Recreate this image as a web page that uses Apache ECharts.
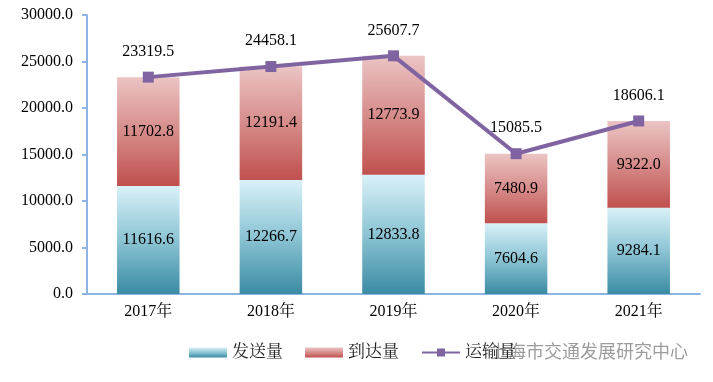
<!DOCTYPE html>
<html><head><meta charset="utf-8">
<script src="https://cdn.jsdelivr.net/npm/echarts@6/dist/echarts.min.js"></script>
<style>html,body{margin:0;padding:0;background:#fff}#c{width:713px;height:382px}</style>
</head><body><div id="c"></div>
<script>
var categories = ['2017年','2018年','2019年','2020年','2021年'];
var sendValues = [11616.6, 12266.7, 12833.8, 7604.6, 9284.1];
var arriveValues = [11702.8, 12191.4, 12773.9, 7480.9, 9322.0];
var totalValues = [23319.5, 24458.1, 25607.7, 15085.5, 18606.1];
var seriesNames = ['发送量','到达量','运输量'];

var font = '"Liberation Serif","Times New Roman",serif';
var cjk = '"Liberation Serif","Noto Serif CJK SC","Noto Sans CJK SC",serif';
var chart = echarts.init(document.getElementById('c'));
var blueGrad = new echarts.graphic.LinearGradient(0,0,0,1,[{offset:0,color:'#d9f1f8'},{offset:0.5,color:'#8cc4d4'},{offset:1,color:'#3a8ba3'}]);
var redGrad = new echarts.graphic.LinearGradient(0,0,0,1,[{offset:0,color:'#ebc4c4'},{offset:0.5,color:'#d68c8a'},{offset:1,color:'#c0504d'}]);
chart.setOption({
  animation:false,
  grid:{left:87,right:13,top:15,bottom:88},
  legend:{bottom:16,left:184,itemGap:22,itemWidth:38,itemHeight:10,
    textStyle:{fontFamily:cjk,fontSize:17,color:'#222'},
    data:[{name:seriesNames[0],icon:'rect'},{name:seriesNames[1],icon:'rect'},{name:seriesNames[2]}]},
  xAxis:{type:'category',data:categories,
    axisLine:{lineStyle:{color:'#8eb4e3',width:2}},axisTick:{show:false},
    axisLabel:{fontFamily:cjk,fontSize:16,color:'#000',margin:10}},
  yAxis:{type:'value',min:0,max:30000,interval:5000,
    axisLine:{show:true,lineStyle:{color:'#8eb4e3',width:2}},
    axisTick:{show:true,length:5,lineStyle:{color:'#8eb4e3',width:2}},
    splitLine:{show:false},
    axisLabel:{fontFamily:font,fontSize:16,color:'#000',margin:14,formatter:function(v){return v.toFixed(1);}}},
  series:[
    {name:seriesNames[0],type:'bar',stack:'a',barWidth:'51%',data:sendValues,
     itemStyle:{color:blueGrad},
     label:{show:true,position:'inside',fontFamily:font,fontSize:16,color:'#000',formatter:function(p){return p.value.toFixed(1);}}},
    {name:seriesNames[1],type:'bar',stack:'a',data:arriveValues,
     itemStyle:{color:redGrad},
     label:{show:true,position:'inside',fontFamily:font,fontSize:16,color:'#000',formatter:function(p){return p.value.toFixed(1);}}},
    {name:seriesNames[2],type:'line',data:totalValues,symbol:'rect',symbolSize:11,
     lineStyle:{color:'#8064a2',width:4},itemStyle:{color:'#8064a2'},
     label:{show:true,position:'top',distance:12,fontFamily:font,fontSize:16,color:'#000',formatter:function(p){return p.value.toFixed(1);}}}
  ],
  graphic:[{type:'text',left:490,top:342,style:{text:'上海市交通发展研究中心',font:'18px "Noto Sans CJK SC",sans-serif',fill:'rgba(90,90,90,0.6)'}}]
});
</script></body></html>
